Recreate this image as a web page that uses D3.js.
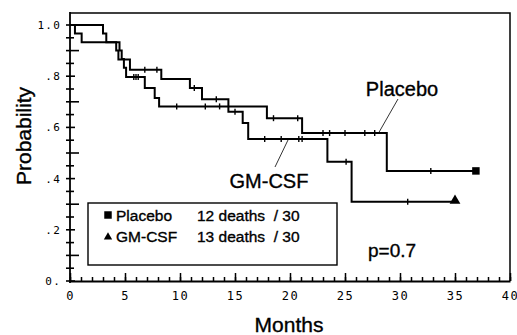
<!DOCTYPE html>
<html>
<head>
<meta charset="utf-8">
<script src="https://cdn.jsdelivr.net/npm/d3@7"></script>
<style>
  body { margin: 0; background: #fff; }
  text { font-family: "Liberation Sans", Arial, sans-serif; fill: #000; }
  .heavy { stroke: #000; stroke-width: 0.35; }
  .tick text { font-family: "DejaVu Sans Mono", monospace; }
</style>
</head>
<body>
<div id="main"></div>
<script>
// survival steps (months, probability after the drop)
var placeboTimes = [0, 3.0, 3.3, 4.5, 4.7, 4.9, 5.1, 6.8, 7.7, 8.1, 17.9, 21.1, 28.8];
var placeboSurv  = [1, 0.967, 0.933, 0.9, 0.867, 0.833, 0.797, 0.754, 0.715, 0.682, 0.636, 0.578, 0.43];
var placeboCensor = [5.8, 6.0, 6.2, 9.7, 12.3, 13.6, 18.5, 20.7, 23.0, 23.6, 25.0, 26.8, 27.7, 32.8];
var placeboEnd = 36.9;

var gmcsfTimes = [0, 0.45, 1.06, 4.2, 4.4, 5.45, 8.3, 10.9, 12.0, 14.4, 15.7, 16.2, 23.4, 25.6];
var gmcsfSurv  = [1, 0.967, 0.933, 0.9, 0.865, 0.825, 0.789, 0.754, 0.71, 0.661, 0.617, 0.555, 0.466, 0.31];
var gmcsfCensor = [6.8, 7.9, 11.3, 13.3, 15.0, 17.7, 19.2, 20.8, 21.1, 25.1, 30.7];
var gmcsfEnd = 35;

var xTickValues = [0, 5, 10, 15, 20, 25, 30, 35, 40];
var yTickValues = [0, 0.2, 0.4, 0.6, 0.8, 1.0];
var yTickLabels = ["0.", ".2", ".4", ".6", ".8", "1.0"];

var legendNames = ["Placebo", "GM-CSF"];
var legendDeaths = ["12 deaths  / 30", "13 deaths  / 30"];

var width = 517, height = 335;

var x = d3.scaleLinear().domain([0, 40]).range([70, 510]);
var y = d3.scaleLinear().domain([0, 1]).range([281, 25]);
var yTop = y(1.047);

var svg = d3.select("#main").append("svg")
    .attr("width", width)
    .attr("height", height);

// frame top + right
svg.append("path")
    .attr("d", "M" + x(0) + "," + yTop + "H" + x(40) + "V" + y(0))
    .attr("fill", "none")
    .attr("stroke", "#000")
    .attr("stroke-width", 1.5);

// x axis: labelled majors, inward minor ticks
var xAxis = d3.axisBottom(x)
    .tickValues(xTickValues)
    .tickSizeInner(-8)
    .tickSizeOuter(0)
    .tickPadding(10)
    .tickFormat(function(d){ return String(d); });

var gx = svg.append("g")
    .attr("transform", "translate(0," + y(0) + ")")
    .call(xAxis);
gx.select(".domain").attr("stroke-width", 1.8);
gx.selectAll(".tick line").attr("stroke-width", 1.5);
gx.selectAll(".tick text").attr("font-size", 12).attr("letter-spacing", 1.5);

svg.append("g")
    .attr("transform", "translate(0," + y(0) + ")")
    .call(d3.axisBottom(x).tickValues(d3.range(0, 41)).tickSize(-4).tickFormat(""))
    .call(function(g){ g.select(".domain").remove(); g.selectAll("line").attr("stroke-width", 1.5); });

// y axis
var yAxis = d3.axisLeft(y)
    .tickValues(yTickValues)
    .tickSizeInner(0)
    .tickSizeOuter(0)
    .tickPadding(9)
    .tickFormat(function(d, i){ return yTickLabels[i]; });

var gy = svg.append("g")
    .attr("transform", "translate(" + x(0) + ",0)")
    .call(yAxis);
gy.select(".domain").attr("d", "M0," + (yTop - 1) + "V" + (y(0) + 2)).attr("stroke-width", 1.8);
gy.selectAll(".tick text").attr("font-size", 11).attr("letter-spacing", 1.2);

var yMinor = d3.range(0, 21).map(function(i){ return i * 0.05; });
svg.append("g").selectAll("line")
    .data(yMinor)
    .enter().append("line")
    .attr("x1", x(0) - 4)
    .attr("x2", function(d, i){ return i % 2 == 0 ? x(0) + (i % 4 == 0 ? 5 : 9) : x(0) + 4; })
    .attr("y1", function(d){ return y(d); })
    .attr("y2", function(d){ return y(d); })
    .attr("stroke", "#000")
    .attr("stroke-width", 1.6);

// curves
var line = d3.line()
    .x(function(d){ return x(d[0]); })
    .y(function(d){ return y(d[1]); })
    .curve(d3.curveStepAfter);

var survAt = function(times, surv, t){
  var i = d3.bisectRight(times, t) - 1;
  return surv[Math.max(0, i)];
};

var drawCurve = function(times, surv, censor, end){
  var pts = times.map(function(t, i){ return [t, surv[i]]; });
  pts.push([end, surv[surv.length - 1]]);
  svg.append("path")
      .datum(pts)
      .attr("d", line)
      .attr("fill", "none")
      .attr("stroke", "#000")
      .attr("stroke-width", 2);
  svg.append("g").selectAll("line")
      .data(censor)
      .enter().append("line")
      .attr("x1", function(d){ return x(d); })
      .attr("x2", function(d){ return x(d); })
      .attr("y1", function(d){ return y(survAt(times, surv, d)) - 3; })
      .attr("y2", function(d){ return y(survAt(times, surv, d)) + 3; })
      .attr("stroke", "#000")
      .attr("stroke-width", 1.4);
};

drawCurve(placeboTimes, placeboSurv, placeboCensor, placeboEnd);
drawCurve(gmcsfTimes, gmcsfSurv, gmcsfCensor, gmcsfEnd);

var square = d3.symbol().type(d3.symbolSquare);
var triangle = d3.symbol().type(d3.symbolTriangle);

svg.append("path")
    .attr("d", square.size(56)())
    .attr("transform", "translate(" + x(placeboEnd) + "," + y(placeboSurv[placeboSurv.length - 1]) + ")");
svg.append("path")
    .attr("d", triangle.size(50)())
    .attr("transform", "translate(" + x(gmcsfEnd) + "," + (y(gmcsfSurv[gmcsfSurv.length - 1]) - 1) + ")");

// curve labels
svg.append("text").attr("class", "heavy").attr("x", 402).attr("y", 96).attr("font-size", 20)
    .attr("text-anchor", "middle").text(legendNames[0]);
svg.append("line").attr("x1", 398).attr("y1", 99).attr("x2", 378).attr("y2", 134)
    .attr("stroke", "#000").attr("stroke-width", 0.8);

svg.append("text").attr("class", "heavy").attr("x", 269).attr("y", 188).attr("font-size", 20)
    .attr("text-anchor", "middle").text(legendNames[1]);
svg.append("line").attr("x1", 288).attr("y1", 140).attr("x2", 275).attr("y2", 167)
    .attr("stroke", "#000").attr("stroke-width", 0.8);

// legend box
var legend = svg.append("g");
legend.append("rect")
    .attr("x", 88).attr("y", 203).attr("width", 249).attr("height", 62)
    .attr("fill", "#fff").attr("stroke", "#000").attr("stroke-width", 1.4);

var rows = legend.selectAll(".row")
    .data(legendNames)
    .enter().append("g")
    .attr("class", "row")
    .attr("transform", function(d, i){ return "translate(0," + (215 + i * 21) + ")"; });

rows.append("path")
    .attr("d", function(d, i){ return i == 0 ? square.size(56)() : triangle.size(30)(); })
    .attr("transform", function(d, i){ return "translate(108," + (i == 0 ? 0 : 1) + ")"; });
rows.append("text")
    .attr("class", "heavy")
    .attr("x", 116).attr("y", 6).attr("font-size", 15.5)
    .text(function(d){ return d; });
rows.append("text")
    .attr("class", "heavy")
    .attr("x", 197).attr("y", 6).attr("font-size", 15.5)
    .attr("xml:space", "preserve")
    .style("white-space", "pre")
    .text(function(d, i){ return legendDeaths[i]; });

svg.append("text").attr("class", "heavy").attr("x", 368).attr("y", 257).attr("font-size", 19).text("p=0.7");

// axis titles
svg.append("text").attr("class", "heavy").attr("x", 289).attr("y", 332).attr("font-size", 21)
    .attr("text-anchor", "middle").text("Months");
svg.append("text")
    .attr("class", "heavy")
    .attr("transform", "translate(31,136) rotate(-90)")
    .attr("font-size", 21)
    .attr("text-anchor", "middle")
    .text("Probability");
</script>
</body>
</html>
